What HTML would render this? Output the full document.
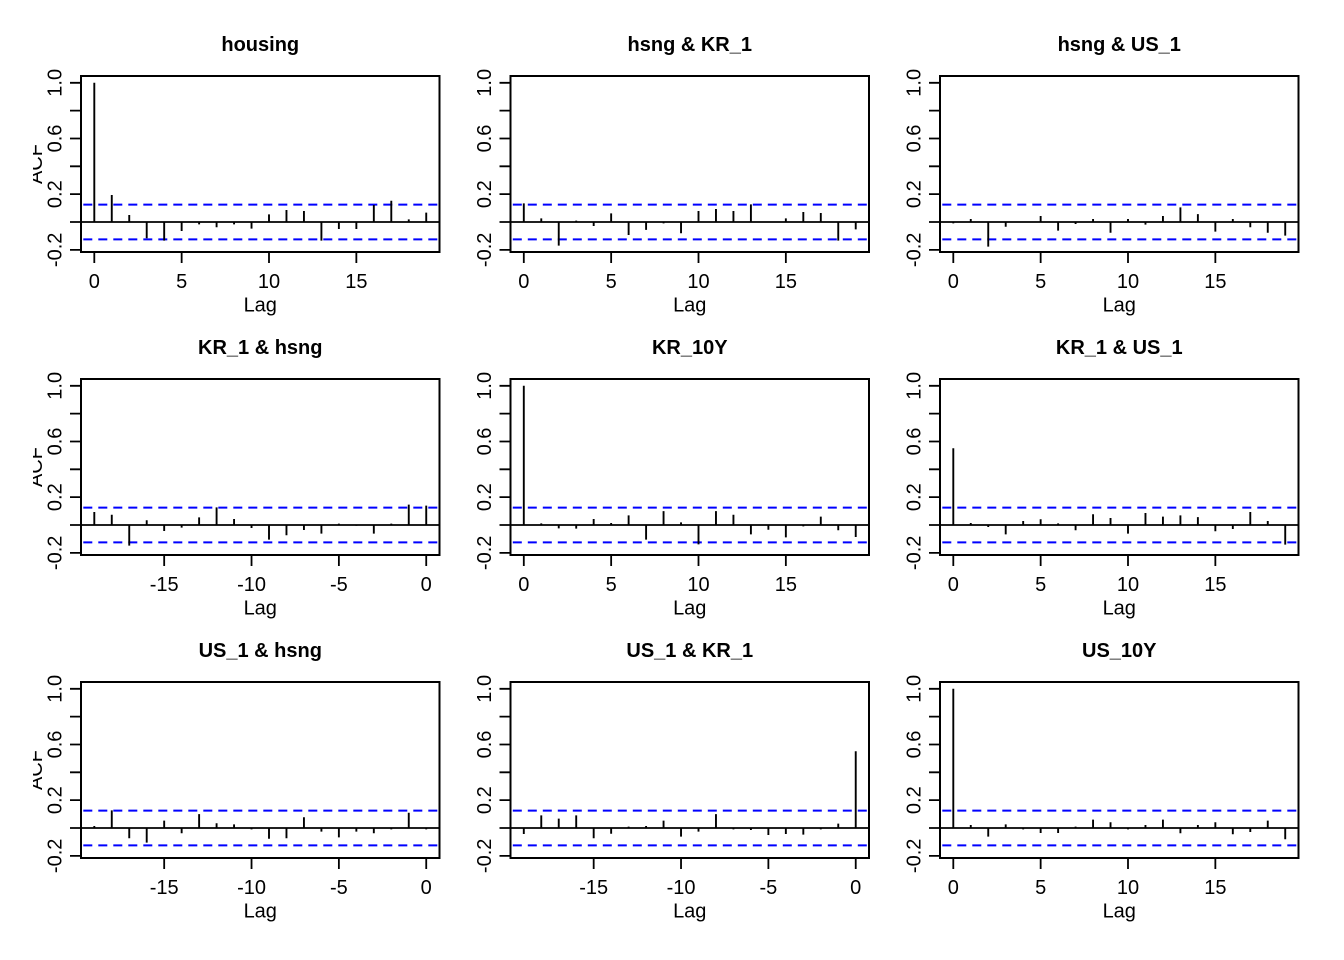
<!DOCTYPE html>
<html>
<head>
<meta charset="utf-8">
<style>
html,body{margin:0;padding:0;background:#fff;}
svg{display:block;}
text{font-family:"Liberation Sans",Arial,sans-serif;font-size:20px;fill:#000;}
.t{font-weight:bold;font-size:20px;}
.m{text-anchor:middle;}
.bx{fill:none;stroke:#000;stroke-width:2;}
.k{stroke:#000;stroke-width:1.8;fill:none;}
.bl{stroke:#0000ff;stroke-width:2;stroke-dasharray:9 6;stroke-dashoffset:12.7;fill:none;}
.sp{stroke:#000;stroke-width:1.9;fill:none;}
</style>
</head>
<body>
<svg width="1344" height="960" viewBox="0 0 1344 960" xmlns="http://www.w3.org/2000/svg">
<defs>
<clipPath id="cl"><rect x="-48" y="-200" width="100" height="300"/></clipPath>
<g id="fr">
<rect class="bx" x="0" y="-146" width="358.5" height="176"/>
<path class="k" d="M0 0H358.5"/>
<path class="bl" d="M0 -17.4H358.5M0 17.4H358.5"/>
<path class="k" d="M-11 27.84H0M-11 0H0M-11 -27.84H0M-11 -55.68H0M-11 -83.52H0M-11 -111.36H0M-11 -139.2H0"/>
</g>
<path id="xp" class="k" d="M13.3 30V41M100.65 30V41M188 30V41M275.35 30V41"/>
<path id="xn" class="k" d="M83.18 30V41M170.53 30V41M257.88 30V41M345.23 30V41"/>
</defs>

<!-- Panel 1 -->
<g transform="translate(81,222)">
<use href="#fr"/><use href="#xp"/>
<text class="t m" x="179.25" y="-171">housing</text>
<g class="m"><text transform="translate(-19.5,27.84) rotate(-90)">-0.2</text><text transform="translate(-19.5,-27.84) rotate(-90)">0.2</text><text transform="translate(-19.5,-83.52) rotate(-90)">0.6</text><text transform="translate(-19.5,-139.2) rotate(-90)">1.0</text></g>
<g class="m"><text x="13.3" y="66">0</text><text x="100.65" y="66">5</text><text x="188" y="66">10</text><text x="275.35" y="66">15</text></g>
<text class="m" x="179.25" y="89.5">Lag</text>
<g clip-path="url(#cl)"><text class="m" transform="translate(-39,-58) rotate(-90)">ACF</text></g>
<g transform="translate(13.3,0) scale(17.47,-139.2)"><path class="sp" vector-effect="non-scaling-stroke" d="M0 0V1M1 0V.194M2 0V.05M3 0V-.117M4 0V-.134M5 0V-.065M6 0V-.017M7 0V-.038M8 0V-.017M9 0V-.048M10 0V.055M11 0V.086M12 0V.079M13 0V-.134M14 0V-.05M15 0V-.05M16 0V.122M17 0V.153M18 0V.019M19 0V.067"/></g>
</g>

<!-- Panel 2 -->
<g transform="translate(510.5,222)">
<use href="#fr"/><use href="#xp"/>
<text class="t m" x="179.25" y="-171">hsng &amp; KR_1</text>
<g class="m"><text transform="translate(-19.5,27.84) rotate(-90)">-0.2</text><text transform="translate(-19.5,-27.84) rotate(-90)">0.2</text><text transform="translate(-19.5,-83.52) rotate(-90)">0.6</text><text transform="translate(-19.5,-139.2) rotate(-90)">1.0</text></g>
<g class="m"><text x="13.3" y="66">0</text><text x="100.65" y="66">5</text><text x="188" y="66">10</text><text x="275.35" y="66">15</text></g>
<text class="m" x="179.25" y="89.5">Lag</text>
<g transform="translate(13.3,0) scale(17.47,-139.2)"><path class="sp" vector-effect="non-scaling-stroke" d="M0 0V.134M1 0V.026M2 0V-.17M3 0V.01M4 0V-.029M5 0V.062M6 0V-.093M7 0V-.057M8 0V-.01M9 0V-.081M10 0V.079M11 0V.093M12 0V.079M13 0V.127M14 0V.003M15 0V.026M16 0V.072M17 0V.065M18 0V-.134M19 0V-.053"/></g>
</g>

<!-- Panel 3 -->
<g transform="translate(940,222)">
<use href="#fr"/><use href="#xp"/>
<text class="t m" x="179.25" y="-171">hsng &amp; US_1</text>
<g class="m"><text transform="translate(-19.5,27.84) rotate(-90)">-0.2</text><text transform="translate(-19.5,-27.84) rotate(-90)">0.2</text><text transform="translate(-19.5,-83.52) rotate(-90)">0.6</text><text transform="translate(-19.5,-139.2) rotate(-90)">1.0</text></g>
<g class="m"><text x="13.3" y="66">0</text><text x="100.65" y="66">5</text><text x="188" y="66">10</text><text x="275.35" y="66">15</text></g>
<text class="m" x="179.25" y="89.5">Lag</text>
<g transform="translate(13.3,0) scale(17.47,-139.2)"><path class="sp" vector-effect="non-scaling-stroke" d="M0 0V-.01M1 0V.022M2 0V-.177M3 0V-.034M4 0V.003M5 0V.043M6 0V-.062M7 0V-.014M8 0V.022M9 0V-.077M10 0V.022M11 0V-.019M12 0V.043M13 0V.105M14 0V.057M15 0V-.069M16 0V.022M17 0V-.038M18 0V-.077M19 0V-.098"/></g>
</g>

<!-- Panel 4 -->
<g transform="translate(81,525)">
<use href="#fr"/><use href="#xn"/>
<text class="t m" x="179.25" y="-171">KR_1 &amp; hsng</text>
<g class="m"><text transform="translate(-19.5,27.84) rotate(-90)">-0.2</text><text transform="translate(-19.5,-27.84) rotate(-90)">0.2</text><text transform="translate(-19.5,-83.52) rotate(-90)">0.6</text><text transform="translate(-19.5,-139.2) rotate(-90)">1.0</text></g>
<g class="m"><text x="83.18" y="66">-15</text><text x="170.53" y="66">-10</text><text x="257.88" y="66">-5</text><text x="345.23" y="66">0</text></g>
<text class="m" x="179.25" y="89.5">Lag</text>
<g clip-path="url(#cl)"><text class="m" transform="translate(-39,-58) rotate(-90)">ACF</text></g>
<g transform="translate(345.23,0) scale(17.47,-139.2)"><path class="sp" vector-effect="non-scaling-stroke" d="M-19 0V.093M-18 0V.074M-17 0V-.148M-16 0V.034M-15 0V-.043M-14 0V-.019M-13 0V.055M-12 0V.127M-11 0V.043M-10 0V-.022M-9 0V-.105M-8 0V-.074M-7 0V-.036M-6 0V-.062M-5 0V.01M-4 0V-.005M-3 0V-.062M-2 0V.01M-1 0V.146M0 0V.139"/></g>
</g>

<!-- Panel 5 -->
<g transform="translate(510.5,525)">
<use href="#fr"/><use href="#xp"/>
<text class="t m" x="179.25" y="-171">KR_10Y</text>
<g class="m"><text transform="translate(-19.5,27.84) rotate(-90)">-0.2</text><text transform="translate(-19.5,-27.84) rotate(-90)">0.2</text><text transform="translate(-19.5,-83.52) rotate(-90)">0.6</text><text transform="translate(-19.5,-139.2) rotate(-90)">1.0</text></g>
<g class="m"><text x="13.3" y="66">0</text><text x="100.65" y="66">5</text><text x="188" y="66">10</text><text x="275.35" y="66">15</text></g>
<text class="m" x="179.25" y="89.5">Lag</text>
<g transform="translate(13.3,0) scale(17.47,-139.2)"><path class="sp" vector-effect="non-scaling-stroke" d="M0 0V1M1 0V.012M2 0V-.024M3 0V-.026M4 0V.043M5 0V.014M6 0V.069M7 0V-.105M8 0V.1M9 0V.019M10 0V-.139M11 0V.1M12 0V.074M13 0V-.067M14 0V-.034M15 0V-.089M16 0V-.01M17 0V.06M18 0V-.038M19 0V-.086"/></g>
</g>

<!-- Panel 6 -->
<g transform="translate(940,525)">
<use href="#fr"/><use href="#xp"/>
<text class="t m" x="179.25" y="-171">KR_1 &amp; US_1</text>
<g class="m"><text transform="translate(-19.5,27.84) rotate(-90)">-0.2</text><text transform="translate(-19.5,-27.84) rotate(-90)">0.2</text><text transform="translate(-19.5,-83.52) rotate(-90)">0.6</text><text transform="translate(-19.5,-139.2) rotate(-90)">1.0</text></g>
<g class="m"><text x="13.3" y="66">0</text><text x="100.65" y="66">5</text><text x="188" y="66">10</text><text x="275.35" y="66">15</text></g>
<text class="m" x="179.25" y="89.5">Lag</text>
<g transform="translate(13.3,0) scale(17.47,-139.2)"><path class="sp" vector-effect="non-scaling-stroke" d="M0 0V.551M1 0V.014M2 0V-.014M3 0V-.067M4 0V.029M5 0V.041M6 0V.012M7 0V-.038M8 0V.077M9 0V.05M10 0V-.062M11 0V.086M12 0V.06M13 0V.069M14 0V.057M15 0V-.045M16 0V-.029M17 0V.093M18 0V.029M19 0V-.141"/></g>
</g>

<!-- Panel 7 -->
<g transform="translate(81,828)">
<use href="#fr"/><use href="#xn"/>
<text class="t m" x="179.25" y="-171">US_1 &amp; hsng</text>
<g class="m"><text transform="translate(-19.5,27.84) rotate(-90)">-0.2</text><text transform="translate(-19.5,-27.84) rotate(-90)">0.2</text><text transform="translate(-19.5,-83.52) rotate(-90)">0.6</text><text transform="translate(-19.5,-139.2) rotate(-90)">1.0</text></g>
<g class="m"><text x="83.18" y="66">-15</text><text x="170.53" y="66">-10</text><text x="257.88" y="66">-5</text><text x="345.23" y="66">0</text></g>
<text class="m" x="179.25" y="89.5">Lag</text>
<g clip-path="url(#cl)"><text class="m" transform="translate(-39,-58) rotate(-90)">ACF</text></g>
<g transform="translate(345.23,0) scale(17.47,-139.2)"><path class="sp" vector-effect="non-scaling-stroke" d="M-19 0V.014M-18 0V.127M-17 0V-.074M-16 0V-.105M-15 0V.053M-14 0V-.038M-13 0V.1M-12 0V.034M-11 0V.026M-10 0V-.01M-9 0V-.077M-8 0V-.074M-7 0V.077M-6 0V-.026M-5 0V-.067M-4 0V-.026M-3 0V-.038M-2 0V-.01M-1 0V.11M0 0V-.01"/></g>
</g>

<!-- Panel 8 -->
<g transform="translate(510.5,828)">
<use href="#fr"/><use href="#xn"/>
<text class="t m" x="179.25" y="-171">US_1 &amp; KR_1</text>
<g class="m"><text transform="translate(-19.5,27.84) rotate(-90)">-0.2</text><text transform="translate(-19.5,-27.84) rotate(-90)">0.2</text><text transform="translate(-19.5,-83.52) rotate(-90)">0.6</text><text transform="translate(-19.5,-139.2) rotate(-90)">1.0</text></g>
<g class="m"><text x="83.18" y="66">-15</text><text x="170.53" y="66">-10</text><text x="257.88" y="66">-5</text><text x="345.23" y="66">0</text></g>
<text class="m" x="179.25" y="89.5">Lag</text>
<g transform="translate(345.23,0) scale(17.47,-139.2)"><path class="sp" vector-effect="non-scaling-stroke" d="M-19 0V-.043M-18 0V.091M-17 0V.067M-16 0V.091M-15 0V-.074M-14 0V-.041M-13 0V.01M-12 0V.014M-11 0V.053M-10 0V-.062M-9 0V-.026M-8 0V.1M-7 0V-.01M-6 0V-.014M-5 0V-.05M-4 0V-.043M-3 0V-.048M-2 0V-.01M-1 0V.031M0 0V.551"/></g>
</g>

<!-- Panel 9 -->
<g transform="translate(940,828)">
<use href="#fr"/><use href="#xp"/>
<text class="t m" x="179.25" y="-171">US_10Y</text>
<g class="m"><text transform="translate(-19.5,27.84) rotate(-90)">-0.2</text><text transform="translate(-19.5,-27.84) rotate(-90)">0.2</text><text transform="translate(-19.5,-83.52) rotate(-90)">0.6</text><text transform="translate(-19.5,-139.2) rotate(-90)">1.0</text></g>
<g class="m"><text x="13.3" y="66">0</text><text x="100.65" y="66">5</text><text x="188" y="66">10</text><text x="275.35" y="66">15</text></g>
<text class="m" x="179.25" y="89.5">Lag</text>
<g transform="translate(13.3,0) scale(17.47,-139.2)"><path class="sp" vector-effect="non-scaling-stroke" d="M0 0V1M1 0V.022M2 0V-.062M3 0V.026M4 0V-.01M5 0V-.036M6 0V-.036M7 0V.01M8 0V.06M9 0V.041M10 0V-.01M11 0V.022M12 0V.06M13 0V-.038M14 0V.022M15 0V.041M16 0V-.045M17 0V-.029M18 0V.053M19 0V-.081"/></g>
</g>
</svg>
</body>
</html>
